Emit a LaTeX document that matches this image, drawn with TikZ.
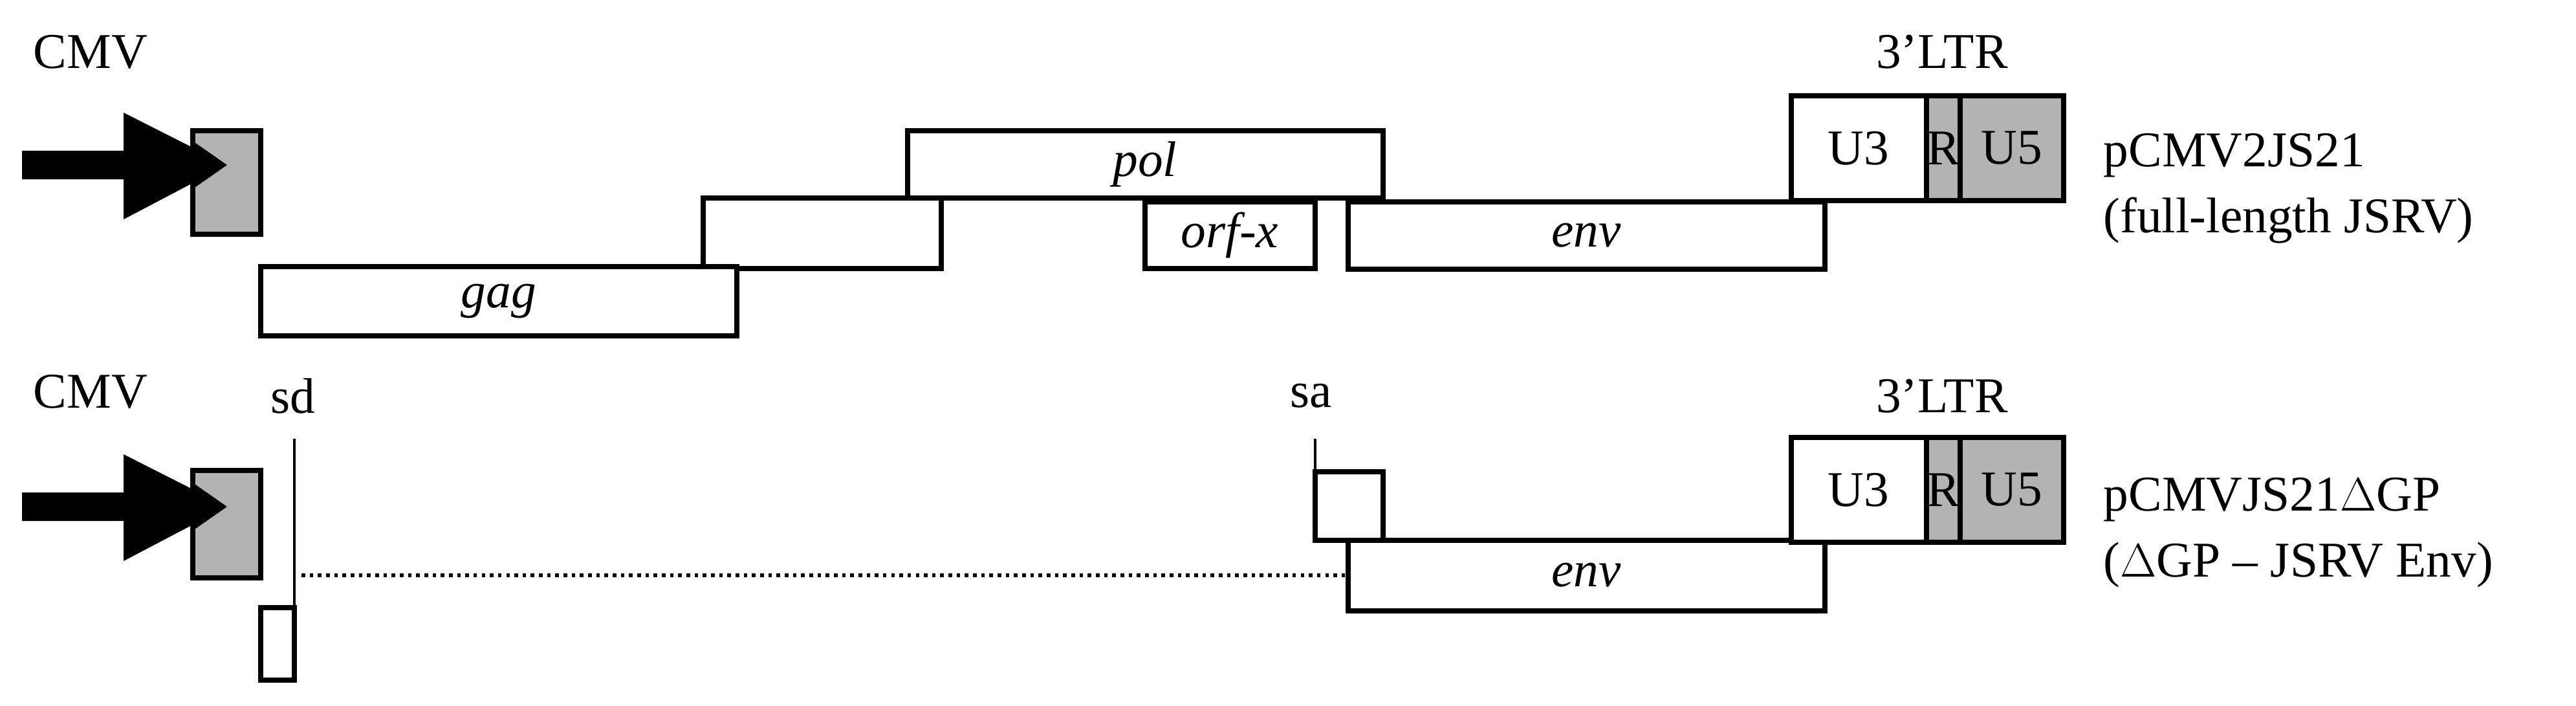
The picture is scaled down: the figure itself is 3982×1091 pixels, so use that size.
\documentclass[tikz,border=0pt]{standalone}
\usepackage{fontspec}
\setmainfont{Liberation Serif}
\begin{document}
\begin{tikzpicture}[x=0.01cm,y=-0.01cm,
  bx/.style={draw=black,line width=2.3pt,fill=white},
  gx/.style={draw=black,line width=2.3pt,fill=ltrgray},
  lab/.style={font=\fontsize{22}{26}\selectfont,inner sep=0pt},
  it/.style={lab,font=\fontsize{22}{26}\selectfont\itshape},
  arr/.style={fill=black,draw=none}]
\definecolor{ltrgray}{HTML}{B3B3B3}
\useasboundingbox (0,0) rectangle (3982,1091);
% ---------- top construct ----------
\node[lab] (cmv1) at (140,80) {CMV};
\fill[arr] (34,233) -- (191,233) -- (191,174) -- (351,255) -- (191,339) -- (191,277) -- (34,277) -- cycle;
\draw[gx] (298,202) rectangle (403,362);
\fill[arr] (298,218) -- (351,255) -- (298,292) -- cycle;
\draw[bx] (1403,202) rectangle (2138,306);
\draw[bx] (1087,306) rectangle (1455,415);
\draw[bx] (403,412) rectangle (1139,519);
\draw[bx] (1770,312) rectangle (2033,415);
\draw[bx] (2084,312) rectangle (2821,416);
\draw[bx] (2769,148) rectangle (2978,310);
\draw[gx] (2978,148) rectangle (3190,310);
\draw[line width=2.3pt] (3030,148) -- (3030,310);
\node[it] (pol) at (1770,254) {pol};
\node[it] (gag) at (771,466) {gag};
\node[it] (orfx) at (1901,363) {orf-x};
\node[it] (env1) at (2452,364) {env};
\node[lab] (u31) at (2873,229) {U3};
\node[lab] (r1) at (3004,229) {R};
\node[lab] (u51) at (3110,229) {U5};
\node[lab] (ltr1) at (3002,80) {3’LTR};
\node[lab,anchor=west] (n1) at (3251,240) {pCMV2JS21};
\node[lab,anchor=west] (n1b) at (3251,341) {(full-length JSRV)};
% ---------- bottom construct ----------
\node[lab] (cmv2) at (140,605) {CMV};
\node[lab] (sd) at (453,612) {sd};
\node[lab] (sa) at (2027,612) {sa};
\fill[arr] (34,761) -- (191,761) -- (191,702) -- (351,783) -- (191,867) -- (191,805) -- (34,805) -- cycle;
\draw[gx] (298,727) rectangle (403,893);
\fill[arr] (298,746) -- (351,783) -- (298,820) -- cycle;
\draw[line width=1.3pt] (455,678) -- (455,1051);
\draw[bx] (403,939) rectangle (455,1051);
\draw[line width=1.3pt] (2033,678) -- (2033,835);
\draw[bx] (2033,729) rectangle (2138,835);
\draw[bx] (2084,835) rectangle (2821,944);
\draw[bx] (2769,676) rectangle (2978,838);
\draw[gx] (2978,676) rectangle (3190,838);
\draw[line width=2.3pt] (3030,676) -- (3030,838);
\coordinate (d1) at (466,889);
\coordinate (d2) at (2080,889);
\draw[line width=1.6pt,dotted] (d1) -- (d2);
\node[it] (env2) at (2452,889) {env};
\node[lab] (u32) at (2873,757) {U3};
\node[lab] (r2) at (3004,757) {R};
\node[lab] (u52) at (3110,757) {U5};
\node[lab] (ltr2) at (3002,612) {3'LTR};
\node[lab,anchor=west] (n2) at (3251,772) {pCMVJS21$\Delta$GP};
\node[lab,anchor=west] (n2b) at (3251,873) {($\Delta$GP – JSRV Env)};
\end{tikzpicture}
\end{document}
